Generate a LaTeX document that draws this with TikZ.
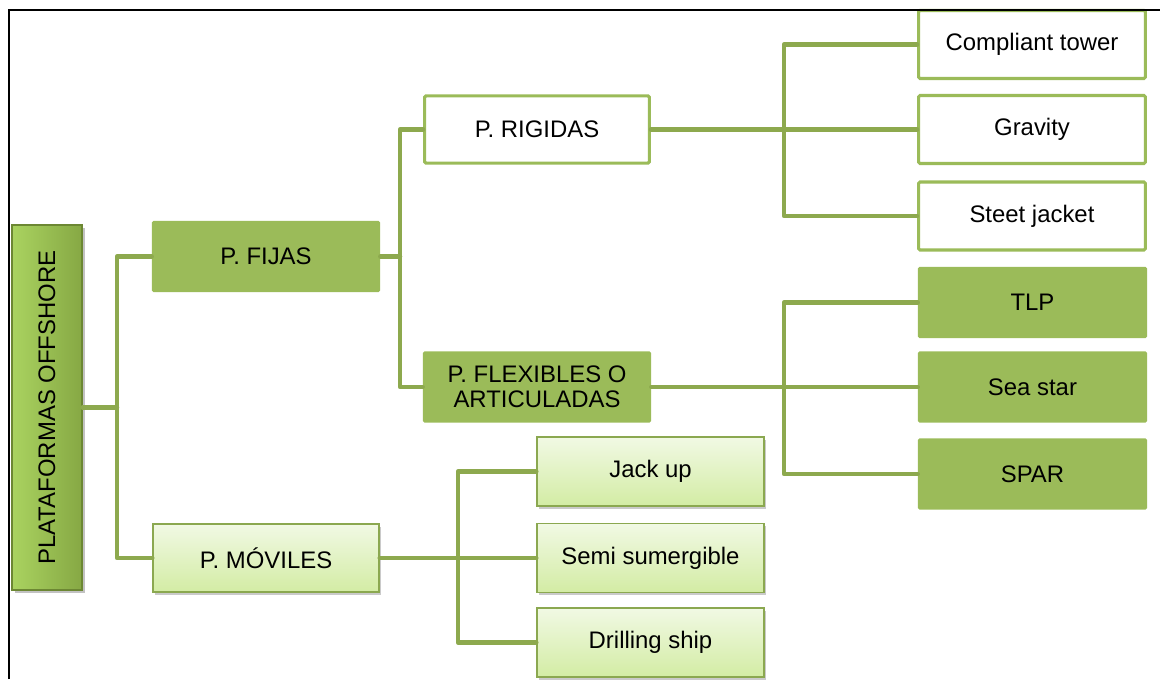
\documentclass[tikz,border=0pt]{standalone}
\usepackage{fontspec}
\setmainfont{Liberation Sans}
\usetikzlibrary{shadows}
\definecolor{boxgreen}{HTML}{9BBB59}
\definecolor{linegreen}{HTML}{8DA94E}
\definecolor{lightTop}{HTML}{F1F9E4}
\definecolor{lightBot}{HTML}{D3ECA4}
\definecolor{rootL}{HTML}{AAD360}
\definecolor{rootR}{HTML}{86A844}
\definecolor{rootEdge}{HTML}{6C8733}
\tikzset{
  every node/.style={font=\fontsize{17}{17.5}\selectfont, align=center, inner sep=0pt},
  conn/.style={draw=linegreen, line width=3.2pt, line join=round, line cap=round},
  whitebox/.style={draw=boxgreen, line width=2.2pt, fill=white, rounded corners=1pt},
  greenbox/.style={fill=boxgreen, rounded corners=1pt},
  lightbox/.style={draw=boxgreen!90!black, line width=1pt, top color=lightTop, bottom color=lightBot,
    drop shadow={shadow xshift=1.5pt, shadow yshift=-2pt, opacity=0.35, fill=black!60}},
  rootbox/.style={draw=rootEdge, line width=1pt, left color=rootL, right color=rootR,
    drop shadow={shadow xshift=2pt, shadow yshift=-2pt, opacity=0.4, fill=black!60}},
}
\begin{document}
\begin{tikzpicture}[x=0.025cm, y=-0.025cm]
\useasboundingbox (0,0) rectangle (1160,679);

% root of the tree
\node[rootbox, minimum width=1.75cm, minimum height=9.125cm] (root) at (47,407.5) {};
\node[rotate=90] (rootlabel) at (root.center) {PLATAFORMAS OFFSHORE};

% second level
\node[greenbox, minimum width=5.7cm, minimum height=1.775cm] (fijas) at (266,256.5) {P. FIJAS};
\node[lightbox, minimum width=5.65cm, minimum height=1.7cm] (moviles) at (266,558) {P. MÓVILES};

% third level
\node[whitebox, minimum width=5.62cm, minimum height=1.68cm] (rigidas) at (537,129.5) {P. RIGIDAS};
\node[greenbox, minimum width=5.7cm, minimum height=1.775cm] (flex) at (537,387) {P. FLEXIBLES O\\ARTICULADAS};

% rigid platforms
\node[whitebox, minimum width=5.67cm, minimum height=1.7cm] (compliant) at (1032,44.5) {Compliant tower};
\node[whitebox, minimum width=5.67cm, minimum height=1.7cm] (gravity) at (1032,129.5) {Gravity};
\node[whitebox, minimum width=5.67cm, minimum height=1.7cm] (steet) at (1032,216) {Steet jacket};

% flexible platforms
\node[greenbox, minimum width=5.725cm, minimum height=1.775cm] (tlp) at (1032.5,302.5) {TLP};
\node[greenbox, minimum width=5.725cm, minimum height=1.775cm] (seastar) at (1032.5,387) {Sea star};
\node[greenbox, minimum width=5.725cm, minimum height=1.775cm] (spar) at (1032.5,474) {SPAR};

% mobile platforms
\node[lightbox, minimum width=5.675cm, minimum height=1.725cm] (jackup) at (650.5,471.5) {Jack up};
\node[lightbox, minimum width=5.675cm, minimum height=1.725cm] (semi) at (650.5,558) {Semi sumergible};
\node[lightbox, minimum width=5.675cm, minimum height=1.725cm] (drilling) at (650.5,642.5) {Drilling ship};

% bus junctions
\coordinate (b1) at (117,407.5);
\coordinate (b2) at (400,256.5);
\coordinate (b3) at (784,129.5);
\coordinate (b4) at (784,387);
\coordinate (b5) at (458,558);

\begin{scope}[on background layer/.try]
\draw[conn] (root.east) -- (b1);
\draw[conn] (fijas.west) -| (b1) |- (moviles.west);
\draw[conn] (fijas.east) -- (b2);
\draw[conn] (rigidas.west) -| (b2) |- (flex.west);
\draw[conn] (rigidas.east) -- (b3) -- (gravity.west);
\draw[conn] (compliant.west) -| (b3) |- (steet.west);
\draw[conn] (flex.east) -- (b4) -- (seastar.west);
\draw[conn] (tlp.west) -| (b4) |- (spar.west);
\draw[conn] (moviles.east) -- (b5) -- (semi.west);
\draw[conn] (jackup.west) -| (b5) |- (drilling.west);
\end{scope}

% page frame
\draw[black, line width=1.5pt] (9,679) -- (9,10) -- (1160,10);
\end{tikzpicture}
\end{document}
